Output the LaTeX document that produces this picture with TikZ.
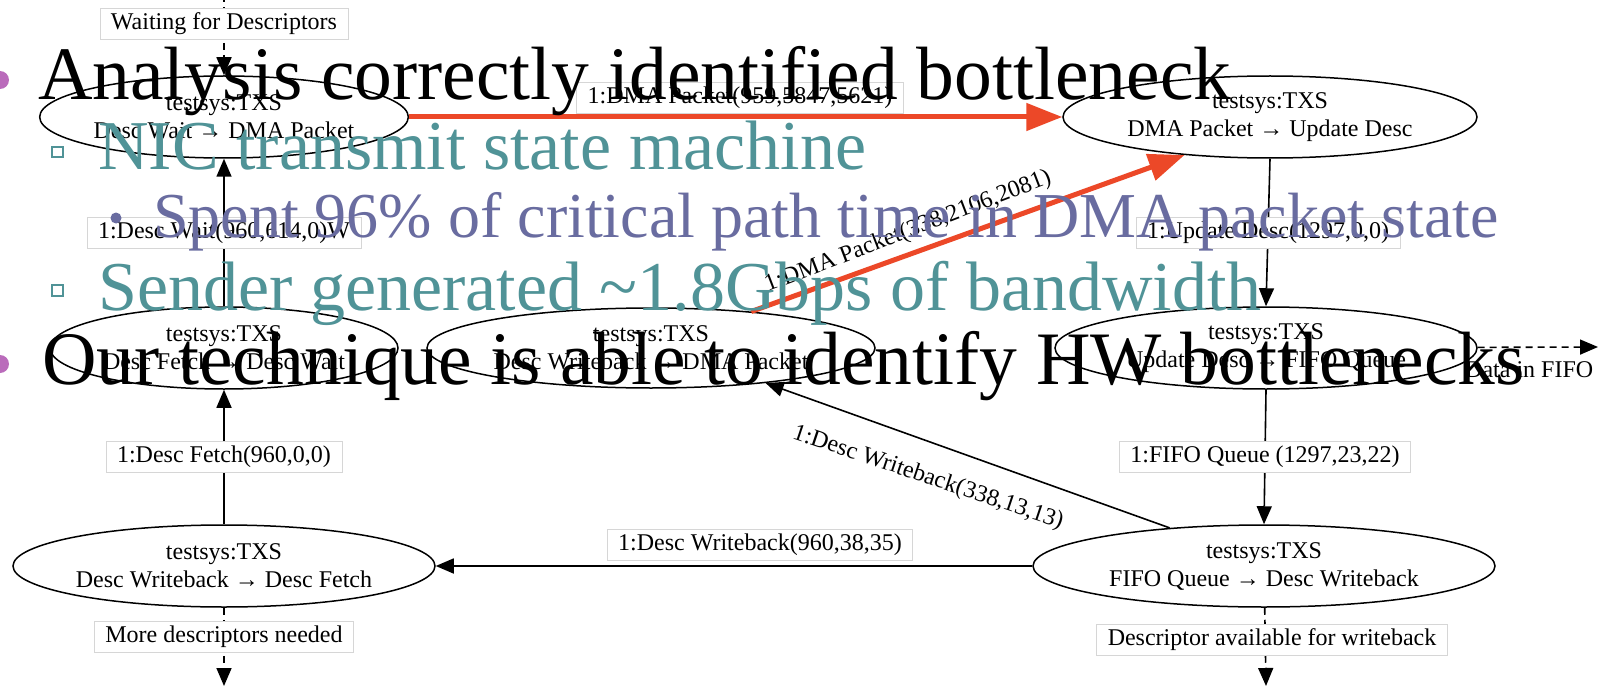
\documentclass[tikz,border=0pt]{standalone}
\usepackage{fontspec}
\setmainfont{Liberation Serif}
\usetikzlibrary{arrows.meta,shapes.geometric}
\definecolor{redE}{RGB}{236,72,40}
\definecolor{tealT}{RGB}{80,147,151}
\definecolor{slateT}{RGB}{105,108,160}
\definecolor{purpB}{RGB}{186,107,187}
\definecolor{boxG}{RGB}{214,214,214}
\newcommand\gvfont{\fontsize{24}{28}\selectfont}
\begin{document}
\begin{tikzpicture}[x=1pt,y=-1pt,
  st/.style={ellipse, draw, line width=1.5pt, fill=white, inner sep=0pt, align=center, font=\gvfont},
  lbl/.style={draw=boxG, line width=0.8pt, fill=white, inner xsep=11pt, inner ysep=0pt, minimum height=31pt, font=\gvfont},
  rotlbl/.style={inner sep=0pt, font=\gvfont},
  edgeB/.style={line width=1.6pt, -{Triangle[length=18pt,width=15pt]}},
  edgeD/.style={line width=1.6pt, dash pattern=on 7pt off 5pt, -{Triangle[length=18pt,width=15pt]}},
  edgeR/.style={line width=5pt, redE, -{Triangle[length=36pt,width=27pt]}},
  big/.style={anchor=base west, inner sep=0pt, font=\fontsize{75.5}{90}\selectfont},
  mid/.style={anchor=base west, inner sep=0pt, font=\fontsize{70}{84}\selectfont, text=tealT},
  small/.style={anchor=base west, inner sep=0pt, font=\fontsize{64}{76}\selectfont, text=slateT}
]
\useasboundingbox (0,0) rectangle (1613,687);
\fill[white] (0,0) rectangle (1613,687);

% state nodes
\node[st, minimum width=358pt, minimum height=82pt] (e1) at (224,117) {testsys:TXS\\Desc Wait → DMA Packet};
\node[st, minimum width=414pt, minimum height=82pt] (e2) at (1270,117) {testsys:TXS\\DMA Packet → Update Desc};
\node[st, minimum width=348pt, minimum height=82pt] (e3) at (224,348) {testsys:TXS\\Desc Fetch → Desc Wait};
\node[st, minimum width=448pt, minimum height=80pt] (e4) at (651,348) {testsys:TXS\\Desc Writeback → DMA Packet};
\node[st, minimum width=422pt, minimum height=82pt] (e4b) at (1266,348) {testsys:TXS\\Update Desc → FIFO Queue};
\node[st, minimum width=422pt, minimum height=82pt] (e5) at (224,566) {testsys:TXS\\Desc Writeback → Desc Fetch};
\node[st, minimum width=462pt, minimum height=82pt] (e6) at (1264,566) {testsys:TXS\\FIFO Queue → Desc Writeback};

% free ends
\coordinate (top) at (224,-5);
\coordinate (bl) at (224,686);
\coordinate (br) at (1266,686);
\coordinate (rr) at (1598,347);

% connectors
\draw[edgeD] (top) -- (e1);
\node[lbl] (lw) at (224,24) {Waiting for Descriptors};
\draw[edgeR] (e1) -- (e2);
\node[lbl] (l1) at (740,98) {1:DMA Packet(959,5847,5621)};
\draw[edgeB] (e3) -- (e1) node[lbl, midway] (l2) {1:Desc Wait(960,614,0)W};
\draw[edgeB] (e5) -- (e3) node[lbl, midway] (l3) {1:Desc Fetch(960,0,0)};
\draw[edgeB] (e2.south) -- (e4b.north) node[lbl, midway] (l4) {1:Update Desc(1297,0,0)};
\draw[edgeB] (e4b.south) -- (e6.north) node[lbl, midway] (l5) {1:FIFO Queue (1297,23,22)};
\draw[edgeB] (e6) -- (e5);
\node[lbl] (l6) at (760,545) {1:Desc Writeback(960,38,35)};
\draw[edgeB] (e6.158) -- (e4.-17);
\node[rotlbl, rotate=-18.5] (l7) at (928,478) {1:Desc Writeback(338,13,13)};
\draw[edgeR] (e4.20) -- (e2.-156);
\node[rotlbl, rotate=21] (l8) at (908,232) {1:DMA Packet(338,2106,2081)};
\draw[edgeD] (e5) -- (bl);
\node[lbl] (lm) at (224,637) {More descriptors needed};
\draw[edgeD] (e6) -- (br);
\node[lbl] (la) at (1272,640) {Descriptor available for writeback};
\draw[edgeD] (e4b) -- (rr);
\node[rotlbl, anchor=west] (ld) at (1465,370) {Data in FIFO};

% slide text overlay
\fill[purpB] (0,80) circle (9pt);
\node[big] (t1) at (38,100) {Analysis correctly identified bottleneck};
\draw[tealT, line width=1.5pt] (52,147) rectangle (63,157);
\node[mid] (t2) at (98,170) {NIC transmit state machine};
\fill[slateT] (116,218) circle (5.5pt);
\node[small] (t3) at (153,237) {Spent 96\% of critical path time in DMA packet state};
\draw[tealT, line width=1.5pt] (52,285) rectangle (63,296);
\node[mid] (t4) at (98,310) {Sender generated \textasciitilde1.8Gbps of bandwidth};
\fill[purpB] (0,364) circle (9pt);
\node[big] (t5) at (42,384) {Our technique is able to identify HW bottlenecks};
\end{tikzpicture}
\end{document}
